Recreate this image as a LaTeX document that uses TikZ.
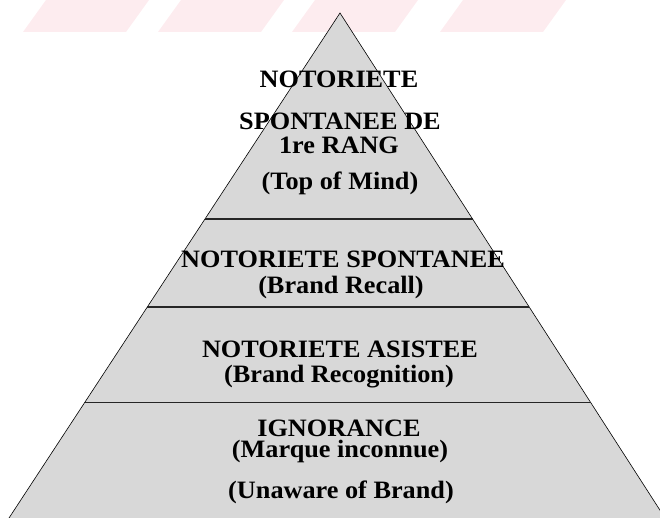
\documentclass[tikz,border=0pt]{standalone}
\usepackage{fontspec}
\setmainfont{Liberation Serif}[FakeStretch=1.05]
\usetikzlibrary{calc}
\definecolor{wmpink}{RGB}{253,236,239}
\definecolor{stonegray}{RGB}{216,216,216}
\tikzset{
    layertext/.style={anchor=base,inner sep=0pt,font=\fontsize{25}{25}\selectfont\bfseries},
    layerline/.style={line width=1.2pt,black!85}
}
\begin{document}
\begin{tikzpicture}[x=1pt,y=-1pt]
    \useasboundingbox (0,0) rectangle (660,518);
    % faint watermark bands
    \foreach \xa in {23,158,292,440}
        \fill[wmpink] (\xa,32) -- (\xa+103,32) -- (\xa+126,0) -- (\xa+23,0) -- cycle;
    % pyramid
    \coordinate (apex) at (340,13);
    \coordinate (bl) at (9,518);
    \coordinate (br) at (665,518);
    \begin{scope}
        \clip (0,0) rectangle (660,518);
        \draw[fill=stonegray,line width=0.6pt] (bl) -- (apex) -- (br);
    \end{scope}
    \foreach \t/\n in {0.408/a,0.582/b,0.772/c}{
        \coordinate (l\n) at ($(apex)!\t!(bl)$);
        \coordinate (r\n) at ($(apex)!\t!(br)$);
        \draw[layerline] (l\n) -- (r\n);
    }
    % labels
    \node[layertext] (top1) at (339,88) {NOTORIETE};
    \node[layertext] (top2) at (340,130) {SPONTANEE DE};
    \node[layertext] (top3) at (339,154) {1re RANG};
    \node[layertext] (top4) at (340,190) {(Top of Mind)};
    \node[layertext] (recall1) at (343,267) {NOTORIETE SPONTANEE};
    \node[layertext] (recall2) at (341,293) {(Brand Recall)};
    \node[layertext] (recog1) at (340,357) {NOTORIETE ASISTEE};
    \node[layertext] (recog2) at (339,382) {(Brand Recognition)};
    \node[layertext] (ign1) at (339,436) {IGNORANCE};
    \node[layertext] (ign2) at (340,457) {(Marque inconnue)};
    \node[layertext] (ign3) at (341,498) {(Unaware of Brand)};
\end{tikzpicture}
\end{document}
